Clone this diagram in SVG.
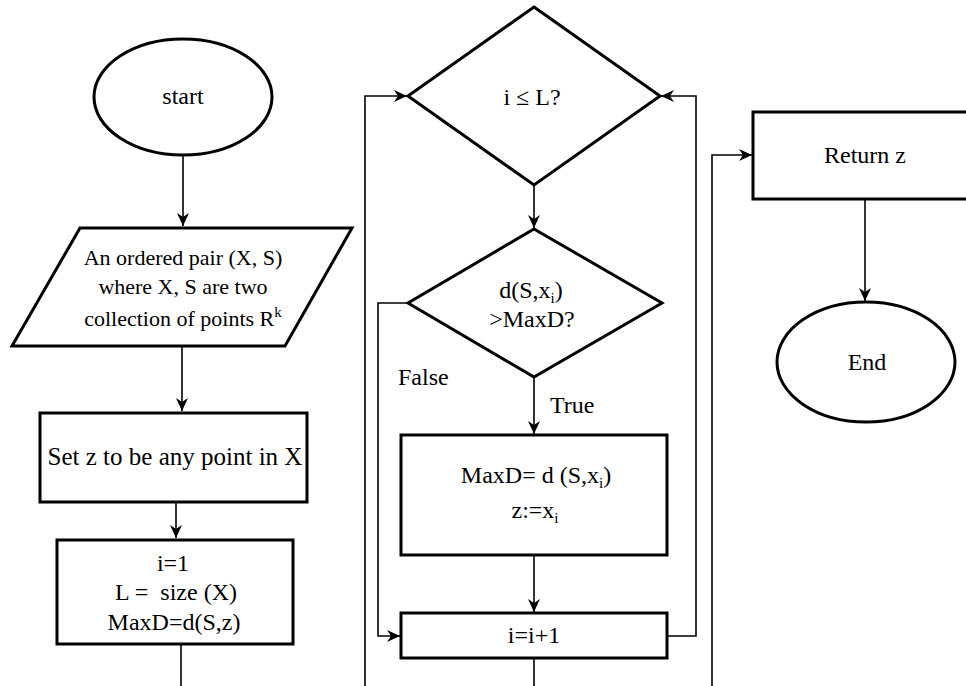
<svg xmlns="http://www.w3.org/2000/svg" width="966" height="686" viewBox="0 0 966 686">
<style>
  .shape { fill: #ffffff; stroke: #000000; stroke-width: 3; }
  .conn { fill: none; stroke: #000000; stroke-width: 1.6; }
  text { font-family: 'Liberation Serif', 'DejaVu Serif', 'Times New Roman', serif; font-size: 24px; fill: #000000; }
  .c { text-anchor: middle; }
  .small { font-size: 22px; }
  .sub { font-size: 15px; }
</style>
<defs>
  <marker id="arr" markerUnits="userSpaceOnUse" markerWidth="14" markerHeight="12" refX="13" refY="6" orient="auto">
    <path d="M0,0 L13,6 L0,12 L4,6 Z" fill="#000000"/>
  </marker>
</defs>
<rect width="966" height="686" fill="#ffffff"/>

<g id="connectors">
  <path class="conn" d="M183,155 L183,226" marker-end="url(#arr)"/>
  <path class="conn" d="M182,346 L182,411" marker-end="url(#arr)"/>
  <path class="conn" d="M176,502 L176,538" marker-end="url(#arr)"/>
  <path class="conn" d="M181,644 L181,686"/>
  <path class="conn" d="M365,686 L365,96 L407,96" marker-end="url(#arr)"/>
  <path class="conn" d="M534,185 L534,228" marker-end="url(#arr)"/>
  <path class="conn" d="M534,377 L534,434" marker-end="url(#arr)"/>
  <path class="conn" d="M408,303 L378,303 L378,636 L400,636" marker-end="url(#arr)"/>
  <path class="conn" d="M534,555 L534,612" marker-end="url(#arr)"/>
  <path class="conn" d="M534,658 L534,686"/>
  <path class="conn" d="M667,636 L696,636 L696,96 L661,96" marker-end="url(#arr)"/>
  <path class="conn" d="M712,686 L712,155 L752,155" marker-end="url(#arr)"/>
  <path class="conn" d="M865,199 L865,301" marker-end="url(#arr)"/>
</g>

<g font-family="Liberation Serif, DejaVu Serif, serif">
<g id="start">
  <ellipse class="shape" cx="183" cy="97" rx="89" ry="58"/>
  <text class="c" x="183" y="104">start</text>
</g>

<g id="input">
  <polygon class="shape" points="80,228 352,228 285,346 12,346"/>
  <text class="c small" x="183" y="265">An ordered pair (X, S)</text>
  <text class="c small" x="183" y="294">where X, S are two</text>
  <text class="c small" x="183" y="326">collection of points R<tspan class="sub" dy="-9">k</tspan></text>
</g>

<g id="setz">
  <rect class="shape" x="40" y="413" width="267" height="89"/>
  <text class="c" x="175" y="465" style="font-size:25px">Set z to be any point in X</text>
</g>

<g id="init">
  <rect class="shape" x="57" y="540" width="236" height="104"/>
  <text class="c" x="173" y="571">i=1</text>
  <text class="c" x="176" y="600" xml:space="preserve">L =  size (X)</text>
  <text class="c" x="174" y="630">MaxD=d(S,z)</text>
</g>

<g id="cond-loop">
  <polygon class="shape" points="534,7 660,96 534,185 408,96"/>
  <text class="c" x="532" y="105">i  ≤ L?</text>
</g>

<g id="cond-max">
  <polygon class="shape" points="534,229 662,303 534,377 408,303"/>
  <text class="c" x="531" y="298">d(S,x<tspan class="sub" dy="5">i</tspan><tspan dy="-5">)</tspan></text>
  <text class="c" x="532" y="327">&gt;MaxD?</text>
</g>

<g id="label-false">
  <text x="398" y="385">False</text>
</g>
<g id="label-true">
  <text x="550" y="413">True</text>
</g>

<g id="update">
  <rect class="shape" x="401" y="435" width="266" height="120"/>
  <text class="c" x="536" y="483">MaxD= d (S,x<tspan class="sub" dy="5">i</tspan><tspan dy="-5">)</tspan></text>
  <text class="c" x="535" y="518">z:=x<tspan class="sub" dy="5">i</tspan></text>
</g>

<g id="increment">
  <rect class="shape" x="401" y="613" width="266" height="45"/>
  <text class="c" x="534" y="643">i=i+1</text>
</g>

<g id="return">
  <rect class="shape" x="753" y="112" width="222" height="87"/>
  <text class="c" x="865" y="163">Return z</text>
</g>

<g id="end">
  <ellipse class="shape" cx="866" cy="362" rx="89" ry="60"/>
  <text class="c" x="867" y="370">End</text>
</g>
</g>
</svg>
